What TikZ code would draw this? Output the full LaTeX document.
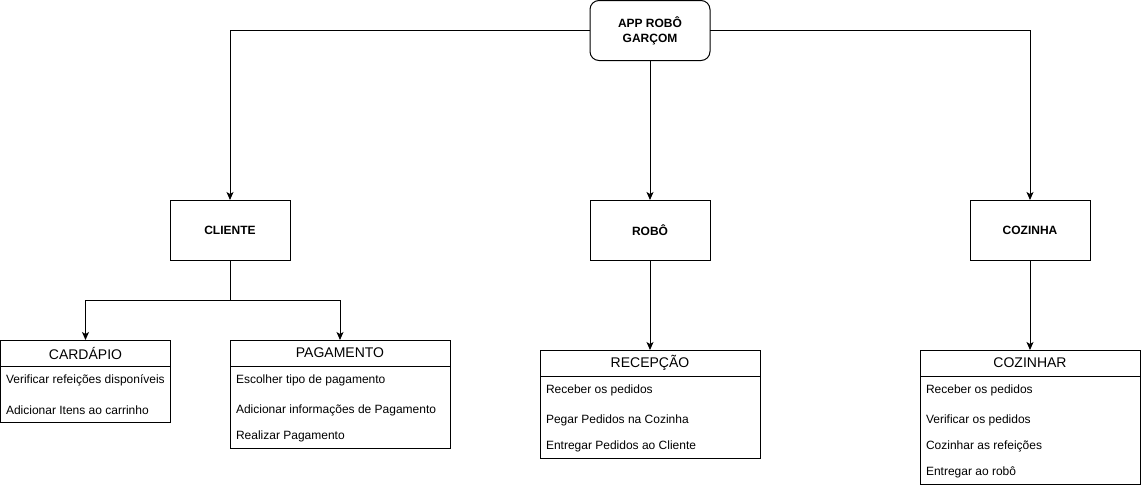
\documentclass[tikz,border=0pt]{standalone}
\usepackage{fontspec}
\setmainfont{Liberation Sans}
\usetikzlibrary{arrows.meta}
\begin{document}
\begin{tikzpicture}[x=1pt,y=-1pt,
  every node/.style={inner sep=0pt,outer sep=0pt},
  box/.style={draw,line width=1pt,minimum width=120pt,minimum height=60pt,
    font=\fontsize{12}{15}\selectfont\bfseries,align=center},
  listbox/.style={draw,line width=1pt,anchor=north west},
  head/.style={font=\fontsize{14}{16}\selectfont},
  item/.style={anchor=west,font=\fontsize{12}{14}\selectfont},
  arr/.style={draw,line width=1pt,-{Stealth[length=8pt,width=7pt,inset=2pt]}},
  sep/.style={draw,line width=1pt}]
\useasboundingbox (0,0) rectangle (1141,488);

% top level
\node[box,rounded corners=9pt] (app) at (650,30.5) {APP ROBÔ\\GARÇOM};
\node[box] (cliente) at (230,230) {CLIENTE};
\node[box] (robo) at (650,230) {ROBÔ};
\node[box] (cozinha) at (1030,230) {COZINHA};

% list containers
\node[listbox,minimum width=170pt,minimum height=82pt] (cardapio) at (0.5,340) {};
\node[listbox,minimum width=220pt,minimum height=108pt] (pagamento) at (230,340) {};
\node[listbox,minimum width=220pt,minimum height=108pt] (recepcao) at (540,350) {};
\node[listbox,minimum width=220pt,minimum height=134pt] (cozinhar) at (920,350) {};

% headers and separators
\foreach \n/\t in {cardapio/CARDÁPIO,pagamento/PAGAMENTO,recepcao/RECEPÇÃO,cozinhar/COZINHAR}{
  \node[head] (\n-head) at ([yshift=-13pt]\n.north) {\t};
  \draw[sep] ([yshift=-26pt]\n.north west) -- ([yshift=-26pt]\n.north east);
}

% items
\node[item] (ca1) at (6,380) {Verificar refeições disponíveis};
\node[item] (ca2) at (6,410) {Adicionar Itens ao carrinho};
\node[item] (pa1) at (236,380) {Escolher tipo de pagamento};
\node[item] (pa2) at (236,410) {Adicionar informações de Pagamento};
\node[item] (pa3) at (236,436) {Realizar Pagamento};
\node[item] (re1) at (546,390) {Receber os pedidos};
\node[item] (re2) at (546,420) {Pegar Pedidos na Cozinha};
\node[item] (re3) at (546,446) {Entregar Pedidos ao Cliente};
\node[item] (co1) at (926,390) {Receber os pedidos};
\node[item] (co2) at (926,420) {Verificar os pedidos};
\node[item] (co3) at (926,446) {Cozinhar as refeições};
\node[item] (co4) at (926,472) {Entregar ao robô};

% connectors
\draw[arr] (app.west) -| (cliente.north);
\draw[arr] (app.east) -| (cozinha.north);
\draw[arr] (app.south) -- (robo.north);
\coordinate (split) at (230,300);
\draw[arr] (cliente.south) -- (split) -| (cardapio.north);
\draw[arr] (split) -| (pagamento.north);
\draw[arr] (robo.south) -- (recepcao.north);
\draw[arr] (cozinha.south) -- (cozinhar.north);
\end{tikzpicture}
\end{document}
